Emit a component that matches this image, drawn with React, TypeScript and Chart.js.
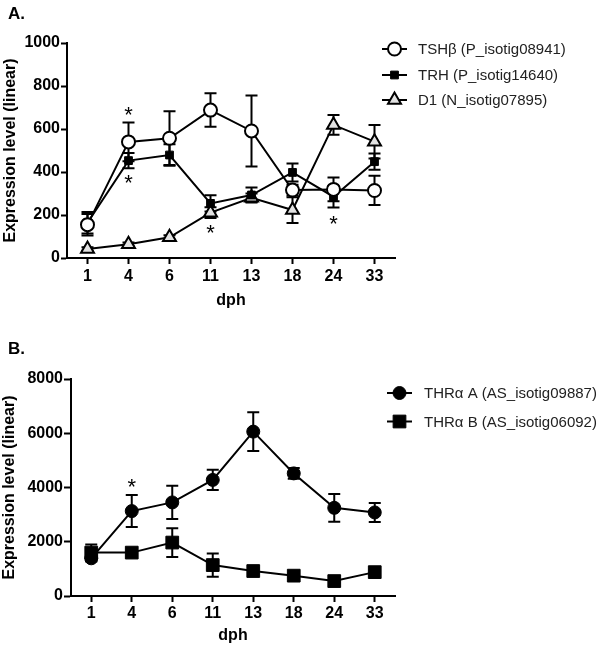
import React, { useEffect, useRef } from 'react';
import { Chart, registerables } from 'chart.js';

Chart.register(...registerables);

const FONT = "'Liberation Sans', Arial, Helvetica, sans-serif";

// ---------- Data ----------
const DAYS = ['1', '4', '6', '11', '13', '18', '24', '33'];

// Panel A
const TSH = [155, 540, 557, 688, 591, 316, 319, 314];
const TSH_ERR = [50, 90, 125, 78, 165, 25, 55, 68];
const TRH = [164, 453, 479, 254, 293, 398, 285, 448];
const TRH_ERR = [50, 35, 50, 38, 35, 42, 50, 38];
const D1 = [42, 64, 96, 211, 280, 223, 619, 541];
const D1_ERR = [8, 8, 10, 25, 20, 60, 46, 78];
const STARS_A = [
  { day: '4', value: 688 },
  { day: '4', value: 372 },
  { day: '11', value: 136 },
  { day: '24', value: 181 },
];

// Panel B
const THRA = [1390, 3130, 3450, 4280, 6060, 4520, 3250, 3080];
const THRA_ERR = [120, 590, 610, 370, 715, 200, 510, 350];
const THRB = [1600, 1600, 1970, 1140, 920, 750, 550, 880];
const THRB_ERR = [300, 140, 530, 430, 90, 70, 60, 90];
const STARS_B = [{ day: '4', value: 4177 }];

const LABELS_A = ['TSHβ (P_isotig08941)', 'TRH (P_isotig14640)', 'D1 (N_isotig07895)'];
const LABELS_B = ['THRα A (AS_isotig09887)', 'THRα B (AS_isotig06092)'];

// ---------- helpers ----------
function drawMarker(ctx: CanvasRenderingContext2D, style: string, x: number, y: number, r: number, fill: string, stroke: string, bw: number) {
  ctx.save();
  ctx.beginPath();
  if (style === 'circle') {
    ctx.arc(x, y, r, 0, Math.PI * 2);
  } else if (style === 'rect') {
    const s = Math.SQRT1_2 * r;
    ctx.rect(x - s, y - s, 2 * s, 2 * s);
  } else if (style === 'triangle') {
    let rad = 0;
    ctx.moveTo(x + Math.sin(rad) * r, y - Math.cos(rad) * r);
    rad += (2 * Math.PI) / 3;
    ctx.lineTo(x + Math.sin(rad) * r, y - Math.cos(rad) * r);
    rad += (2 * Math.PI) / 3;
    ctx.lineTo(x + Math.sin(rad) * r, y - Math.cos(rad) * r);
    ctx.closePath();
  }
  ctx.fillStyle = fill;
  ctx.fill();
  if (bw > 0) {
    ctx.lineWidth = bw;
    ctx.strokeStyle = stroke;
    ctx.stroke();
  }
  ctx.restore();
}

const errorBarPlugin = {
  id: 'errorBars',
  beforeDatasetsDraw(chart: any) {
    const ctx = chart.ctx;
    const ys = chart.scales.y;
    chart.data.datasets.forEach((ds: any, i: number) => {
      const errs = ds.errors;
      if (!errs) return;
      const meta = chart.getDatasetMeta(i);
      ctx.save();
      ctx.strokeStyle = '#000';
      ctx.lineWidth = 2;
      meta.data.forEach((pt: any, j: number) => {
        const v = ds.data[j];
        const e = errs[j];
        const top = ys.getPixelForValue(v + e);
        const bot = ys.getPixelForValue(Math.max(0, v - e));
        ctx.beginPath();
        ctx.moveTo(pt.x, top);
        ctx.lineTo(pt.x, bot);
        ctx.moveTo(pt.x - 6, top);
        ctx.lineTo(pt.x + 6, top);
        ctx.moveTo(pt.x - 6, bot);
        ctx.lineTo(pt.x + 6, bot);
        ctx.stroke();
      });
      ctx.restore();
    });
  },
};

function makeDecorPlugin(panelLabel: string, labelY: number, stars: { day: string; value: number }[], legend: { x0: number; tx: number; ys: number[] }) {
  return {
    id: 'decor',
    afterDraw(chart: any) {
      const ctx = chart.ctx;
      const xs = chart.scales.x;
      const ys = chart.scales.y;
      ctx.save();
      // panel label
      ctx.fillStyle = '#000';
      ctx.font = `bold 17px ${FONT}`;
      ctx.textAlign = 'left';
      ctx.textBaseline = 'middle';
      ctx.fillText(panelLabel, 8, labelY);
      // asterisks
      ctx.font = `22px ${FONT}`;
      ctx.textAlign = 'center';
      stars.forEach((s) => {
        const idx = DAYS.indexOf(s.day);
        const px = xs.getPixelForValue(idx);
        const py = ys.getPixelForValue(s.value);
        ctx.fillText('*', px, py + 5.5);
      });
      // legend
      chart.data.datasets.forEach((ds: any, i: number) => {
        const y = legend.ys[i];
        ctx.strokeStyle = '#000';
        ctx.lineWidth = 2;
        ctx.beginPath();
        ctx.moveTo(legend.x0, y);
        ctx.lineTo(legend.x0 + 25, y);
        ctx.stroke();
        drawMarker(ctx, ds.pointStyle, legend.x0 + 12.5, y, ds.pointRadius, ds.pointBackgroundColor, ds.pointBorderColor, ds.pointBorderWidth);
        ctx.fillStyle = '#222';
        ctx.font = `15px ${FONT}`;
        ctx.textAlign = 'left';
        ctx.textBaseline = 'middle';
        ctx.fillText(ds.label, legend.tx, y + 1);
      });
      ctx.restore();
    },
  };
}

function series(label: string, data: number[], errors: number[], style: string, r: number, fill: string, bw: number) {
  return {
    label,
    data,
    errors,
    borderColor: '#000',
    borderWidth: 2,
    tension: 0,
    fill: false,
    pointStyle: style,
    pointRadius: r,
    pointHoverRadius: r,
    pointBackgroundColor: fill,
    pointBorderColor: '#000',
    pointBorderWidth: bw,
  };
}

function axisOptions(opts: { min: number; max: number; step: number; yWidth: number; xHeight: number; xTickPad: number; yTickLen: number; yTickPad: number; yTitlePad: number }) {
  const tickFont = { family: FONT, size: 16, weight: 'bold' as const };
  const titleFont = { family: FONT, size: 16, weight: 'bold' as const, lineHeight: 1.1 };
  return {
    x: {
      type: 'category' as const,
      offset: true,
      grid: { display: true, drawOnChartArea: false, drawTicks: true, tickLength: 6, tickWidth: 2, tickColor: '#000', offset: false },
      border: { display: true, color: '#000', width: 2 },
      ticks: { color: '#000', font: tickFont, padding: opts.xTickPad, maxRotation: 0, autoSkip: false },
      title: { display: true, text: 'dph', color: '#000', font: titleFont, padding: 0 },
      afterFit: (s: any) => {
        s.height = opts.xHeight;
      },
    },
    y: {
      type: 'linear' as const,
      min: opts.min,
      max: opts.max,
      grid: { display: true, drawOnChartArea: false, drawTicks: true, tickLength: opts.yTickLen, tickWidth: 2, tickColor: '#000' },
      border: { display: true, color: '#000', width: 2 },
      ticks: { stepSize: opts.step, color: '#000', font: tickFont, padding: opts.yTickPad, callback: (v: any) => String(v) },
      title: { display: true, text: 'Expression level (linear)', color: '#000', font: titleFont, padding: { top: opts.yTitlePad, bottom: 0 } },
      afterFit: (s: any) => {
        s.width = opts.yWidth;
      },
    },
  };
}

function useChart(ref: React.RefObject<HTMLCanvasElement | null>, build: () => any) {
  useEffect(() => {
    if (!ref.current) return;
    const chart = new Chart(ref.current, build());
    return () => chart.destroy();
  }, []);
}

export default function App() {
  const refA = useRef<HTMLCanvasElement>(null);
  const refB = useRef<HTMLCanvasElement>(null);

  useChart(refA, () => ({
    type: 'line',
    data: {
      labels: DAYS,
      datasets: [
        series(LABELS_A[0], TSH, TSH_ERR, 'circle', 6.5, '#fff', 2),
        series(LABELS_A[1], TRH, TRH_ERR, 'rect', 5.5, '#000', 1),
        series(LABELS_A[2], D1, D1_ERR, 'triangle', 7.5, '#e2e2e2', 2),
      ],
    },
    options: {
      animation: false,
      responsive: false,
      maintainAspectRatio: false,
      layout: { padding: { top: 43, left: 0, right: 205, bottom: 14 } },
      plugins: { legend: { display: false }, tooltip: { enabled: false } },
      scales: axisOptions({ min: 0, max: 1000, step: 200, yWidth: 67, xHeight: 51, xTickPad: 3, yTickLen: 6, yTickPad: 1, yTitlePad: 2 }),
    },
    plugins: [errorBarPlugin, makeDecorPlugin('A.', 14, STARS_A, { x0: 382, tx: 418, ys: [49, 75, 100] })],
  }));

  useChart(refB, () => ({
    type: 'line',
    data: {
      labels: DAYS,
      datasets: [
        series(LABELS_B[0], THRA, THRA_ERR, 'circle', 6.5, '#000', 1),
        series(LABELS_B[1], THRB, THRB_ERR, 'rect', 9, '#000', 1),
      ],
    },
    options: {
      animation: false,
      responsive: false,
      maintainAspectRatio: false,
      layout: { padding: { top: 56, left: 0, right: 205, bottom: 2 } },
      plugins: { legend: { display: false }, tooltip: { enabled: false } },
      scales: axisOptions({ min: 0, max: 8000, step: 2000, yWidth: 71, xHeight: 48, xTickPad: 2, yTickLen: 7, yTickPad: 1, yTitlePad: 1 }),
    },
    plugins: [errorBarPlugin, makeDecorPlugin('B.', 26, STARS_B, { x0: 387, tx: 424, ys: [70, 98.5] })],
  }));

  return (
    <div style={{ position: 'absolute', left: 0, top: 0, width: 600, height: 646, background: '#fff' }}>
      <canvas ref={refA} width={600} height={323} style={{ position: 'absolute', left: 0, top: 0, width: 600, height: 323 }} />
      <canvas ref={refB} width={600} height={323} style={{ position: 'absolute', left: 0, top: 323, width: 600, height: 323 }} />
    </div>
  );
}
